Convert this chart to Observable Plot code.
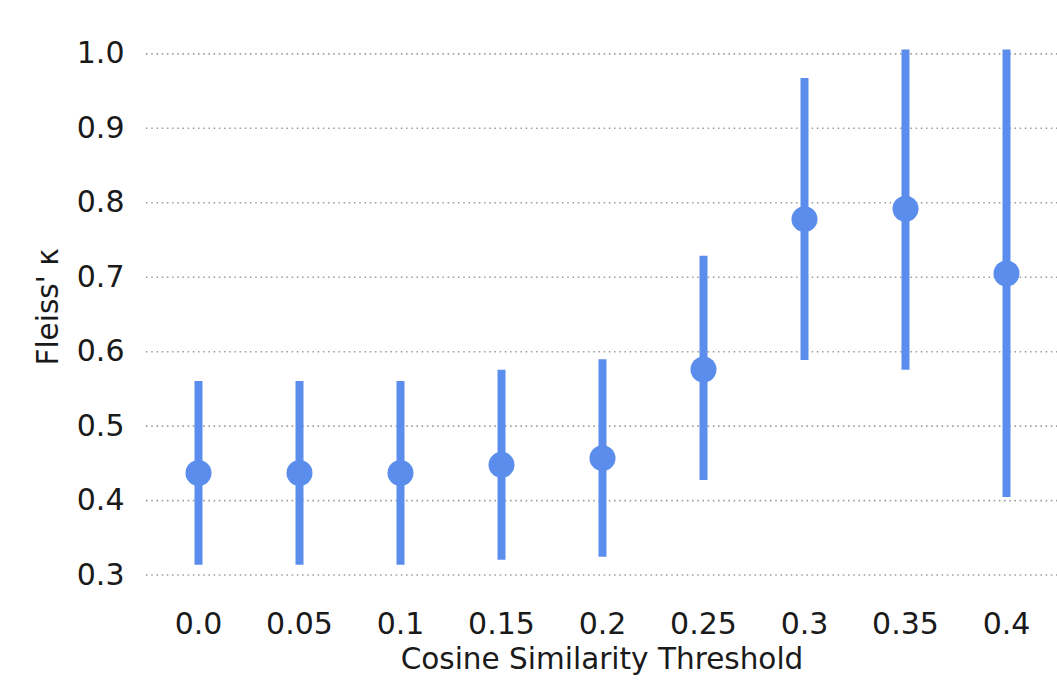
<!DOCTYPE html>
<html>
<head>
<meta charset="utf-8">
<script src="https://cdn.jsdelivr.net/npm/d3@7"></script>
<script src="https://cdn.jsdelivr.net/npm/@observablehq/plot@0.6"></script>
<style>
  html, body { margin: 0; padding: 0; background: #fff; overflow: hidden; }
  #chart svg { display: block; }
</style>
</head>
<body>
<div id="chart"></div>
<script>
const thresholds = ["0.0", "0.05", "0.1", "0.15", "0.2", "0.25", "0.3", "0.35", "0.4"];
const kappa = [0.437, 0.437, 0.437, 0.448, 0.457, 0.576, 0.778, 0.792, 0.705];
const lower = [0.313, 0.313, 0.313, 0.320, 0.324, 0.427, 0.588, 0.575, 0.404];
const upper = [0.560, 0.560, 0.560, 0.575, 0.589, 0.728, 0.967, 1.005, 1.005];
const yTicks = [0.3, 0.4, 0.5, 0.6, 0.7, 0.8, 0.9, 1.0];

const data = thresholds.map((t, i) => ({t, k: kappa[i], lo: lower[i], hi: upper[i]}));
const color = "#5b8dec";

const chart = Plot.plot({
  width: 1057,
  height: 686,
  marginLeft: 146,
  marginRight: 0,
  marginTop: 31,
  marginBottom: 104,
  style: {fontFamily: "'DejaVu Sans', sans-serif", fontSize: "30px", color: "#1a1a1a", background: "#fff"},
  x: {type: "point", domain: thresholds, padding: 0.5, label: null},
  y: {domain: [0.29, 1.03], label: null},
  marks: [
    Plot.gridY(yTicks, {stroke: "#a0a0a0", strokeOpacity: 1, strokeWidth: 1.6, strokeDasharray: "1.6,3.6"}),
    Plot.axisY(yTicks, {tickSize: 0, tickPadding: 22, tickFormat: d3.format(".1f"), fontSize: 30}),
    Plot.axisX({tickSize: 0, tickPadding: 30, fontSize: 30}),
    Plot.ruleX(data, {x: "t", y1: "lo", y2: "hi", stroke: color, strokeWidth: 8}),
    Plot.dot(data, {x: "t", y: "k", r: 13, fill: color, stroke: null}),
    Plot.text(["Cosine Similarity Threshold"], {frameAnchor: "bottom", lineAnchor: "middle", textAnchor: "middle", dy: 77, fontSize: 29.5, fill: "#1a1a1a"}),
    Plot.text(["Fleiss' κ"], {frameAnchor: "left", lineAnchor: "middle", textAnchor: "middle", dx: -98, rotate: -90, fontSize: 29.5, fill: "#1a1a1a"})
  ]
});
document.getElementById("chart").appendChild(chart);
</script>
</body>
</html>
